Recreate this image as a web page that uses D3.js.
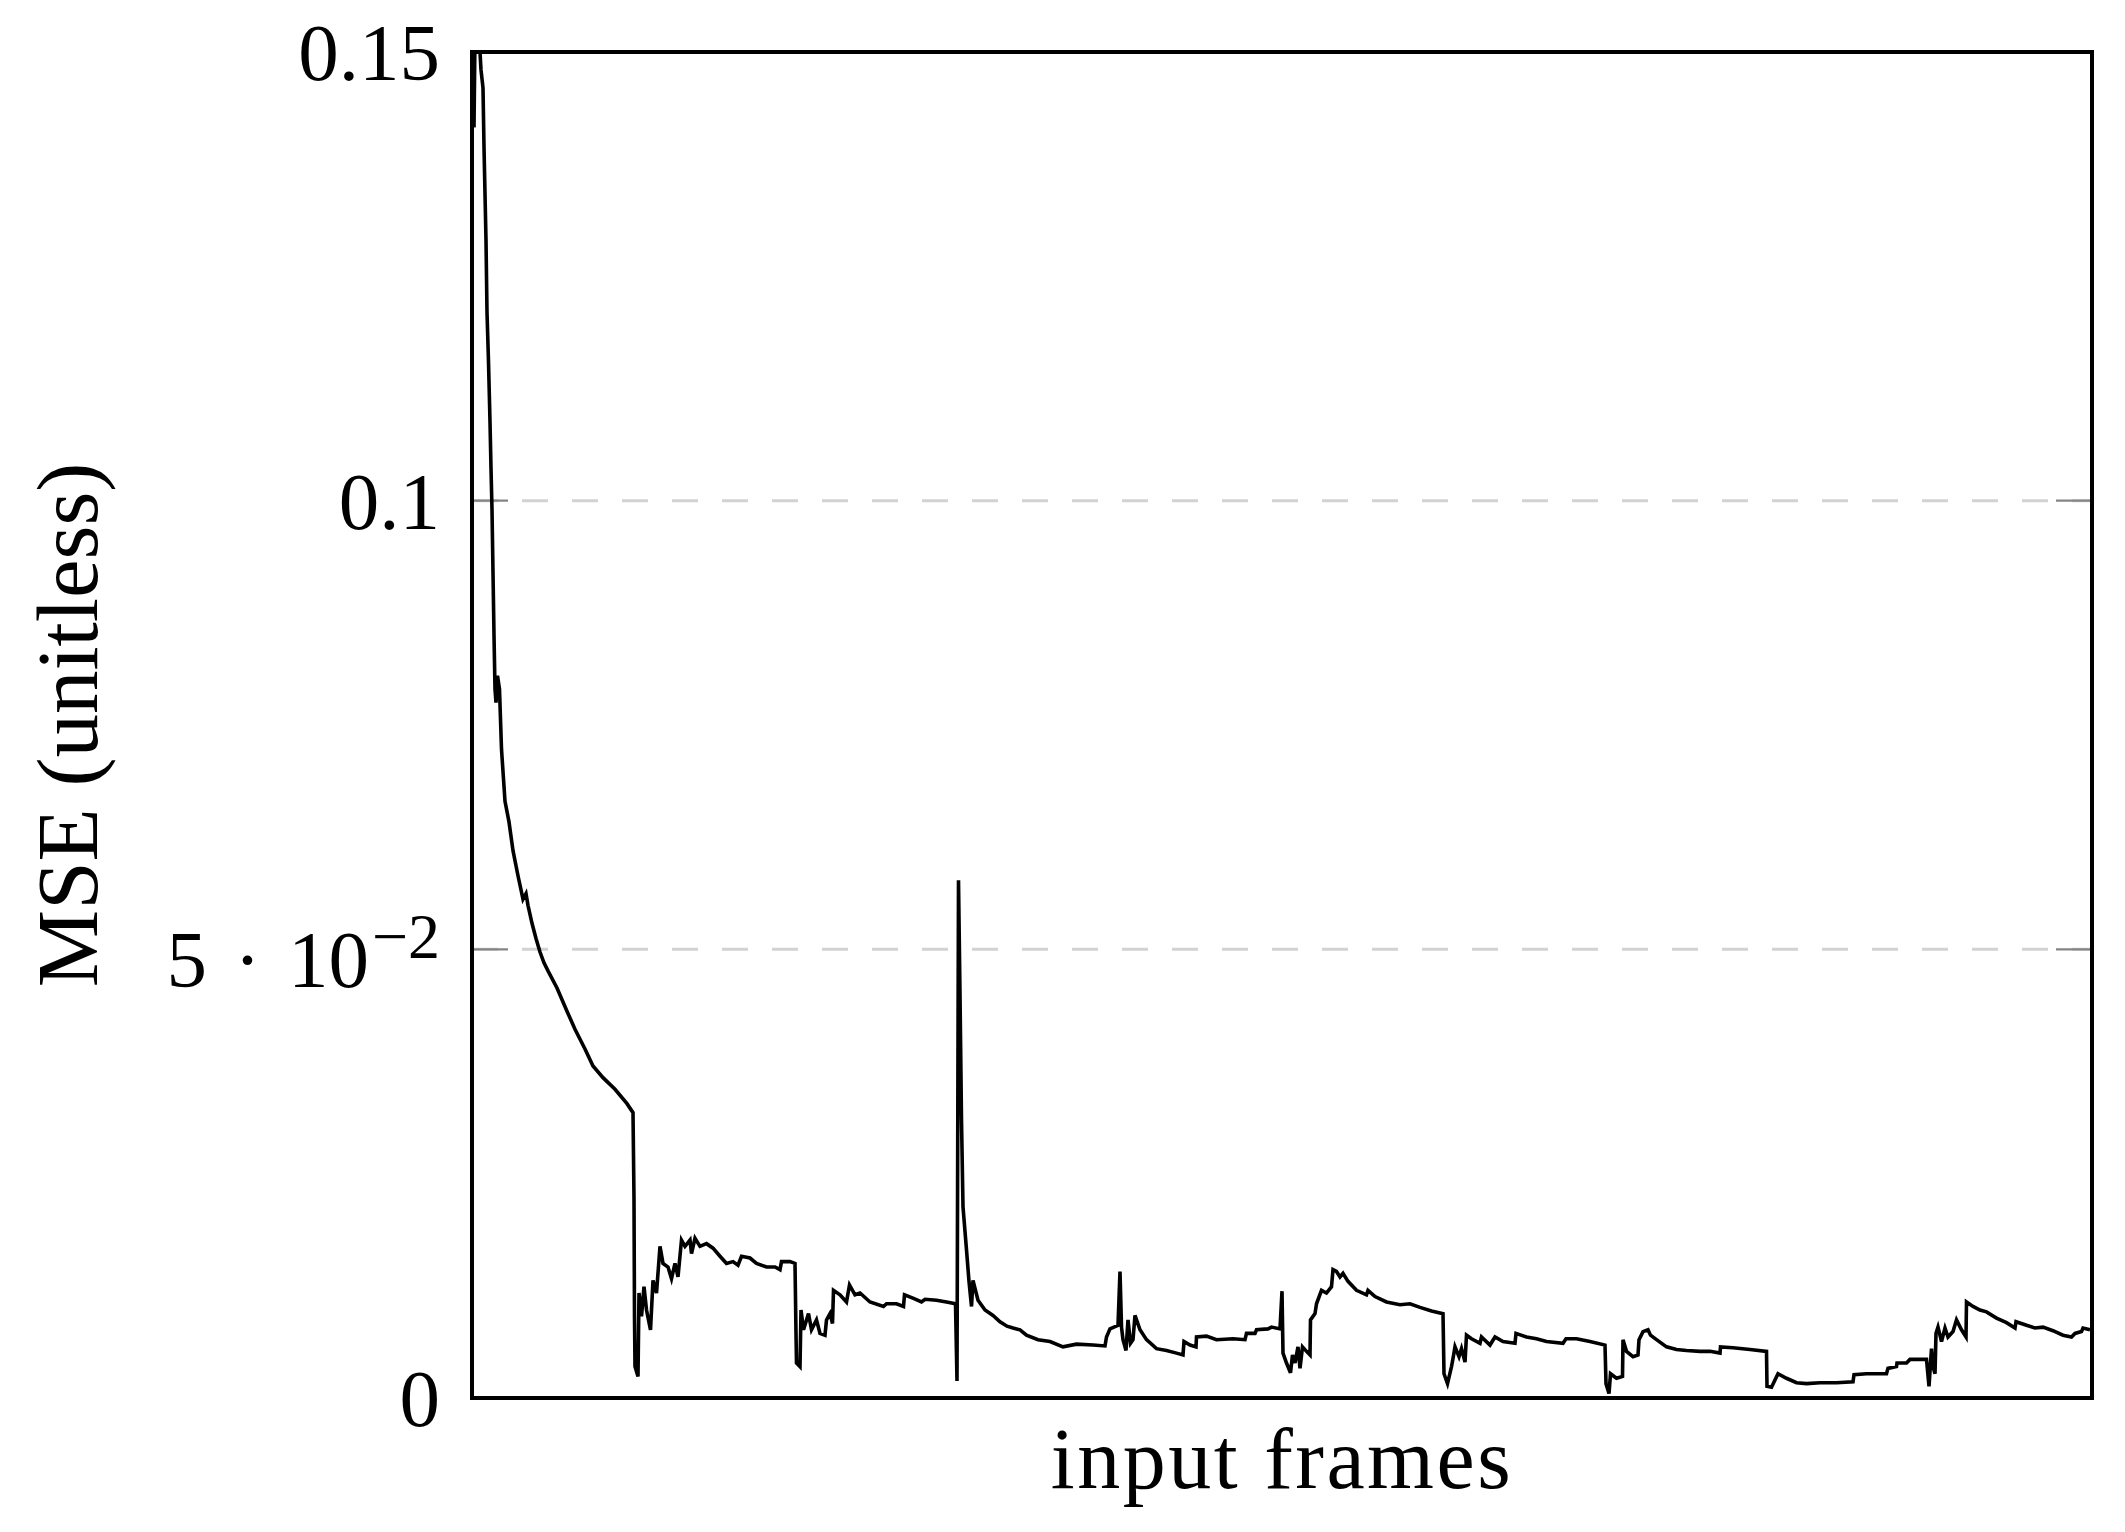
<!DOCTYPE html>
<html>
<head>
<meta charset="utf-8">
<script src="https://cdn.jsdelivr.net/npm/d3@7"></script>
<style>
  html, body { margin: 0; padding: 0; background: #fff; }
</style>
</head>
<body>
<div id="container"></div>
<script>
// frame index vs mean squared error
const msePoints = [
  [2,0.1416],[4,0.162],[7,0.152],[9,0.148],[11,0.146],[12,0.1394],[14,0.129],[15,0.121],[16.5,0.1155],[18,0.1088],
  [19,0.1036],[20,0.099],[21,0.092],[22,0.085],[23,0.079],[24,0.0775],[25.5,0.0805],[27.5,0.079],[29.5,0.0723],[33,0.0665],
  [37,0.0642],[41,0.061],[46,0.0582],[51,0.0556],[54,0.0562],[56,0.0549],[60,0.0529],[64,0.0512],[68,0.0497],[72,0.0485],
  [76,0.0476],[85,0.0457],[95,0.0431],[103,0.0411],[113,0.0389],[121,0.037],[131,0.0357],[143,0.0344],[155,0.0328],[161,0.0318],
  [162,0.0222],[162.5,0.009],[163,0.0035],[166,0.0024],[167,0.0117],[169.5,0.0091],[172,0.0124],[174.5,0.0098],[178.5,0.0076],[181,0.0131],
  [184.5,0.0117],[188,0.0169],[191,0.015],[196,0.0146],[199.5,0.0133],[203,0.015],[206,0.0135],[209.5,0.0176],[213,0.0169],[218,0.0176],
  [219.5,0.0161],[223,0.0178],[228,0.0169],[234.5,0.0172],[241,0.0167],[248,0.0158],[254.5,0.015],[261,0.0152],[266,0.0148],[269.5,0.0158],
  [278,0.0156],[284.5,0.015],[294.5,0.0146],[303,0.0146],[308,0.0143],[309.5,0.0152],[318,0.0152],[323,0.015],[324,0.0072],[324.5,0.0039],
  [328,0.0035],[329,0.0098],[331.5,0.0076],[336.5,0.0094],[339.5,0.0076],[344.5,0.0087],[348,0.0072],[353,0.007],[354.5,0.0087],[358,0.0094],
  [360.5,0.0083],[361.5,0.012],[368,0.0115],[374.5,0.0107],[377.5,0.0126],[383,0.0115],[388,0.0117],[398,0.0107],[411.5,0.0102],[414.5,0.0105],
  [424.5,0.0105],[431.5,0.0102],[432.5,0.0115],[441.5,0.0111],[449.5,0.0107],[453,0.011],[464.5,0.0109],[474.5,0.0107],[483.5,0.0105],[485,0.0019],
  [486.5,0.0577],[488,0.045],[489.5,0.031],[491,0.0213],[494.5,0.0165],[497,0.013],[499.5,0.0102],[501,0.0131],[506,0.0109],[513,0.0098],
  [521,0.0092],[528,0.0085],[535,0.008],[541,0.0078],[548,0.0076],[554.5,0.007],[566,0.0065],[578,0.0063],[591,0.0057],[604.5,0.006],
  [621,0.0059],[633,0.0058],[634.5,0.0068],[638,0.0077],[646,0.0081],[648,0.0141],[649.5,0.0079],[651,0.0065],[654,0.0053],[656,0.0087],
  [658.5,0.0061],[661,0.0065],[663,0.0092],[668,0.0076],[674.5,0.0065],[684.5,0.0055],[694.5,0.0053],[704.5,0.005],[711,0.0048],[712,0.0063],
  [718,0.0059],[724,0.0057],[724.5,0.0068],[734.5,0.0069],[744.5,0.0065],[761,0.0066],[773,0.0065],[774.5,0.0072],[783,0.0072],[784.5,0.0076],
  [796,0.0077],[799.5,0.0079],[808,0.0077],[810,0.0119],[811,0.005],[814.5,0.0039],[818.5,0.0028],[820.5,0.0048],[823,0.0039],[826,0.0057],
  [828,0.0033],[830.5,0.0057],[834.5,0.0052],[838,0.0048],[838.5,0.0087],[843,0.0094],[844.5,0.0105],[849.5,0.012],[854.5,0.0117],[859.5,0.0124],
  [861,0.0143],[864.5,0.0141],[868,0.0135],[871,0.0139],[876,0.013],[884.5,0.012],[894.5,0.0115],[896,0.012],[903,0.0113],[914.5,0.0107],
  [928,0.0104],[938,0.0105],[948,0.0101],[959.5,0.0097],[971,0.0094],[972,0.0027],[975.5,0.0016],[979.5,0.0035],[981,0.0044],[983,0.0057],
  [987,0.0046],[989.5,0.0055],[993,0.004],[994.5,0.007],[999.5,0.0066],[1008,0.0061],[1009.5,0.0068],[1018,0.0059],[1023,0.0068],[1031,0.0063],
  [1043,0.0061],[1044,0.0072],[1054.5,0.0068],[1064.5,0.0066],[1074.5,0.0063],[1091,0.0061],[1094,0.0066],[1104.5,0.0066],[1118,0.0063],[1133,0.0059],
  [1134,0.0016],[1137,0.0005],[1138.5,0.0027],[1144.5,0.0022],[1150.5,0.0024],[1151,0.0065],[1154.5,0.0052],[1161,0.0046],[1166,0.0048],[1167,0.0065],
  [1171,0.0074],[1176,0.0076],[1178.5,0.007],[1184.5,0.0065],[1194.5,0.0057],[1204.5,0.0054],[1214.5,0.0053],[1228,0.0052],[1238,0.0052],[1248,0.005],
  [1248.5,0.0057],[1261,0.0056],[1278,0.0054],[1294.5,0.0052],[1295,0.0013],[1299.5,0.0012],[1306,0.0027],[1314.5,0.0022],[1324.5,0.0017],[1334.5,0.0016],
  [1348,0.0017],[1364.5,0.0017],[1381,0.0018],[1382,0.0026],[1394.5,0.0027],[1414.5,0.0027],[1416,0.0033],[1424.5,0.0035],[1425,0.0039],[1434.5,0.0039],
  [1438,0.0043],[1454.5,0.0043],[1457,0.0013],[1459.5,0.0055],[1461,0.0035],[1463,0.0027],[1464,0.0072],[1466,0.0079],[1469.5,0.0063],[1473,0.0078],
  [1476,0.0068],[1481,0.0074],[1484.5,0.0087],[1489.5,0.0076],[1494,0.0068],[1494.5,0.0107],[1501,0.0102],[1508,0.0098],[1514.5,0.0096],[1524.5,0.0089],
  [1534.5,0.0084],[1543,0.0078],[1544,0.0085],[1554.5,0.0081],[1563,0.0078],[1571,0.0079],[1581,0.0075],[1591,0.007],[1599.5,0.0068],[1603,0.0072],
  [1609.5,0.0074],[1611,0.0078],[1618,0.0076]
];

const frameRange = [0, 1620];
const mseRange = [0, 0.15];
const yTickValues = [0, 0.05, 0.1, 0.15];
const yTickLabels = ['0', '5·10−2', '0.1', '0.15'];
const gridValues = [0.05, 0.1];

const viewBox = { w: 2125, h: 1532 };
const margin = { top: 52, right: 33, bottom: 134, left: 472 };
const width = viewBox.w - margin.left - margin.right;
const height = viewBox.h - margin.top - margin.bottom;
const serif = '"Liberation Serif", "DejaVu Serif", serif';

const svg = d3.select('#container')
    .append('svg')
    .attr('width', viewBox.w)
    .attr('height', viewBox.h)
    .attr('viewBox', `0 0 ${viewBox.w} ${viewBox.h}`)
    .append('g')
    .attr('transform', `translate(${margin.left}, ${margin.top})`);

const x = d3.scaleLinear().domain(frameRange).range([0, width]);
const y = d3.scaleLinear().domain(mseRange).range([height, 0]);

svg.append('clipPath')
    .attr('id', 'plot-clip')
    .append('rect')
    .attr('width', width)
    .attr('height', height);

// dashed grid lines
svg.append('g')
    .selectAll('line')
    .data(gridValues).enter()
    .append('line')
    .attr('x1', 0)
    .attr('x2', width)
    .attr('y1', d => y(d))
    .attr('y2', d => y(d))
    .attr('stroke', '#d2d2d2')
    .attr('stroke-width', 3)
    .attr('stroke-dasharray', '26,24');

// small gray ticks inside the frame, both sides
const tickLen = 36;
const tickG = svg.append('g').attr('stroke', '#858585').attr('stroke-width', 2.4);
tickG.selectAll('.tl')
    .data(yTickValues).enter()
    .append('line')
    .attr('x1', 0).attr('x2', tickLen)
    .attr('y1', d => y(d)).attr('y2', d => y(d));
tickG.selectAll('.tr')
    .data(yTickValues).enter()
    .append('line')
    .attr('x1', width - tickLen).attr('x2', width)
    .attr('y1', d => y(d)).attr('y2', d => y(d));

// the MSE curve
const line = d3.line()
    .x(d => x(d[0]))
    .y(d => y(d[1]));

svg.append('path')
    .datum(msePoints)
    .attr('clip-path', 'url(#plot-clip)')
    .attr('d', line)
    .attr('fill', 'none')
    .attr('stroke', '#000')
    .attr('stroke-width', 3.6)
    .attr('stroke-linejoin', 'miter');

// frame
svg.append('rect')
    .attr('x', 0)
    .attr('y', 0)
    .attr('width', width)
    .attr('height', height)
    .attr('fill', 'none')
    .attr('stroke', '#000')
    .attr('stroke-width', 4);

// y tick labels
const labels = svg.append('g')
    .attr('font-family', serif)
    .attr('font-size', 81)
    .attr('fill', '#000')
    .attr('text-anchor', 'end');

yTickValues.forEach((v, i) => {
    const label = yTickLabels[i];
    const t = labels.append('text').attr('x', -32);
    if (label.indexOf('·') >= 0) {
        const [mant, rest] = label.split('·');
        const exp = rest.slice(2);
        t.attr('y', y(v) + 38);
        t.append('tspan').text(mant + '\u2004·\u200410');
        t.append('tspan')
            .attr('font-size', 64)
            .attr('dx', 3)
            .attr('dy', -29)
            .text(exp);
    } else {
        t.attr('y', y(v) + 28).text(label);
    }
});

// axis titles
svg.append('text')
    .attr('transform', `translate(${97 - margin.left}, ${height / 2}) rotate(-90)`)
    .attr('text-anchor', 'middle')
    .attr('font-family', serif)
    .attr('font-size', 87)
    .text('MSE (unitless)');

svg.append('text')
    .attr('x', width / 2)
    .attr('y', height + 90)
    .attr('text-anchor', 'middle')
    .attr('font-family', serif)
    .attr('font-size', 86)
    .attr('letter-spacing', 2.5)
    .text('input frames');
</script>
</body>
</html>
